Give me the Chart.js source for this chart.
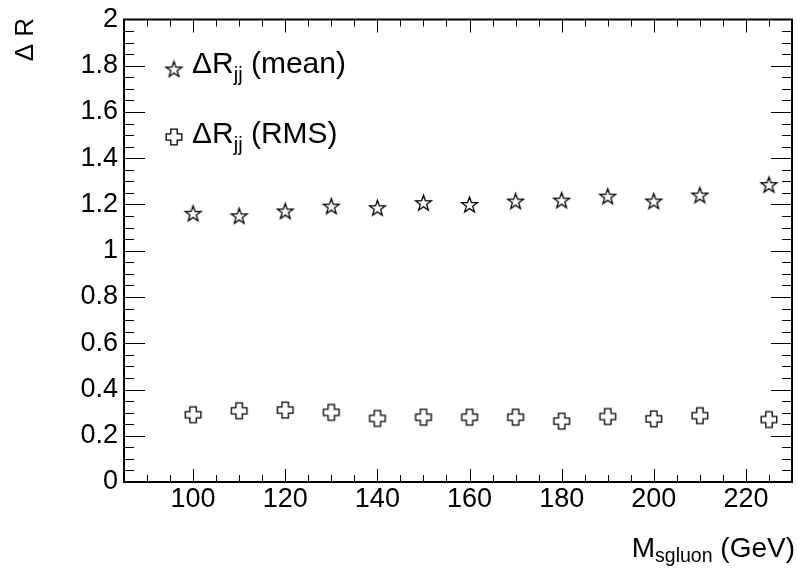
<!DOCTYPE html>
<html>
<head>
<meta charset="utf-8">
<script src="https://cdn.jsdelivr.net/npm/chart.js@4/dist/chart.umd.min.js"></script>
<style>
  html, body { margin: 0; padding: 0; background: #fff; }
</style>
</head>
<body>
<canvas id="chart" width="797" height="570"></canvas>
<script>
// sgluon mass points (GeV)
const masses = [100, 110, 120, 130, 140, 150, 160, 170, 180, 190, 200, 210, 225];
// Delta R_jj mean and RMS
const meanDR = [1.162, 1.151, 1.172, 1.193, 1.186, 1.208, 1.200, 1.215, 1.219, 1.236, 1.215, 1.241, 1.286];
const rmsDR = [0.291, 0.308, 0.311, 0.301, 0.275, 0.280, 0.280, 0.280, 0.263, 0.283, 0.273, 0.287, 0.270];

const xTicks = [100, 120, 140, 160, 180, 200, 220];
const yTicks = [0, 0.2, 0.4, 0.6, 0.8, 1, 1.2, 1.4, 1.6, 1.8, 2];
const legendLabels = ["(mean)", "(RMS)"];

const FONT = "'Liberation Sans', Arial, Helvetica, sans-serif";

// open five point star (ROOT marker 30)
function makeStar(R) {
	const c = document.createElement("canvas");
	const s = Math.ceil(R * 2 + 4);
	c.width = c.height = s;
	const g = c.getContext("2d");
	const cx = s / 2, cy = s / 2 + 0.095 * R;
	const r = R * 0.4;
	g.beginPath();
	for (let i = 0; i < 10; i++) {
		const a = -Math.PI / 2 + i * Math.PI / 5;
		const rr = i % 2 ? r : R;
		const px = cx + rr * Math.cos(a), py = cy + rr * Math.sin(a);
		i ? g.lineTo(px, py) : g.moveTo(px, py);
	}
	g.closePath();
	g.fillStyle = "#fff";
	g.fill();
	g.strokeStyle = "#000";
	g.lineWidth = 1.3;
	g.stroke();
	return c;
}

// open cross (ROOT marker 28)
function makeCross(h, w) {
	const c = document.createElement("canvas");
	const s = Math.ceil(h * 2 + 4);
	c.width = c.height = s;
	const g = c.getContext("2d");
	const m = s / 2;
	const pts = [[-w, -h], [w, -h], [w, -w], [h, -w], [h, w], [w, w], [w, h], [-w, h], [-w, w], [-h, w], [-h, -w], [-w, -w]];
	g.beginPath();
	pts.forEach((p, i) => i ? g.lineTo(m + p[0], m + p[1]) : g.moveTo(m + p[0], m + p[1]));
	g.closePath();
	g.fillStyle = "#fff";
	g.fill();
	g.strokeStyle = "#000";
	g.lineWidth = 1.3;
	g.stroke();
	return c;
}

const starImg = makeStar(8.3);
const crossImg = makeCross(7.8, 3.2);

function drawParts(ctx, x, y, parts) {
	// parts: [text, fontSize, baselineShift]
	let cx = x;
	for (const [t, size, dy] of parts) {
		ctx.font = size + "px " + FONT;
		ctx.fillText(t, cx, y + dy);
		cx += ctx.measureText(t).width;
	}
	return cx;
}

function partsWidth(ctx, parts) {
	let w = 0;
	for (const [t, size] of parts) {
		ctx.font = size + "px " + FONT;
		w += ctx.measureText(t).width;
	}
	return w;
}

const rootFrame = {
	id: "rootFrame",
	beforeDatasetsDraw(chart) {
		const { ctx, chartArea: a, scales: { x, y } } = chart;
		ctx.save();
		ctx.strokeStyle = "#000";
		ctx.lineWidth = 1;
		ctx.beginPath();
		for (let v = 90; v < 230; v += 5) {
			const px = Math.round(x.getPixelForValue(v)) + 0.5;
			const len = xTicks.includes(v) ? 13 : 7;
			ctx.moveTo(px, a.bottom);
			ctx.lineTo(px, a.bottom - len);
			ctx.moveTo(px, a.top);
			ctx.lineTo(px, a.top + len);
		}
		for (let i = 1; i < 40; i++) {
			const py = Math.round(y.getPixelForValue(i * 0.05)) + 0.5;
			const len = i % 4 === 0 ? 21 : 10;
			ctx.moveTo(a.left, py);
			ctx.lineTo(a.left + len, py);
			ctx.moveTo(a.right, py);
			ctx.lineTo(a.right - len, py);
		}
		ctx.stroke();
		ctx.lineWidth = 2;
		ctx.strokeRect(a.left, a.top, a.right - a.left, a.bottom - a.top);
		ctx.restore();
	},
	afterDraw(chart) {
		const { ctx } = chart;
		ctx.save();
		ctx.fillStyle = "#000";
		ctx.textBaseline = "alphabetic";
		ctx.textAlign = "left";

		// legend
		const rows = [[starImg, 69, 73], [crossImg, 137, 143]];
		rows.forEach(([img, my, by], i) => {
			ctx.drawImage(img, 174 - img.width / 2, my - img.height / 2);
			drawParts(ctx, 192, by, [["\u0394R", 30, 0], ["jj", 20, 8], [" " + legendLabels[i], 30, 0]]);
		});

		// x title
		const xt = [["M", 28, 0], ["sgluon", 19.5, 5], [" (GeV)", 28, 0]];
		drawParts(ctx, 795 - partsWidth(ctx, xt), 557, xt);

		// y title
		ctx.translate(33, 18);
		ctx.rotate(-Math.PI / 2);
		ctx.textAlign = "right";
		ctx.font = "26px " + FONT;
		ctx.fillText("\u0394 R", 0, 0);
		ctx.restore();
	}
};

const tickFont = { family: FONT, size: 27, lineHeight: 1 };

new Chart(document.getElementById("chart"), {
	type: "scatter",
	data: {
		datasets: [
			{
				data: masses.map((m, i) => ({ x: m, y: meanDR[i] })),
				pointStyle: starImg
			},
			{
				data: masses.map((m, i) => ({ x: m, y: rmsDR[i] })),
				pointStyle: crossImg
			}
		]
	},
	options: {
		responsive: false,
		animation: false,
		layout: { padding: { left: 0, right: 2, top: 15, bottom: 0 } },
		scales: {
			x: {
				type: "linear",
				min: 85,
				max: 230,
				afterBuildTicks: (s) => { s.ticks = xTicks.map((v) => ({ value: v })); },
				afterFit: (s) => { s.height = 88; },
				grid: { display: false, drawTicks: false },
				border: { display: false },
				ticks: { font: tickFont, color: "#000", padding: 4, maxRotation: 0, autoSkip: false }
			},
			y: {
				min: 0,
				max: 2,
				afterBuildTicks: (s) => { s.ticks = yTicks.map((v) => ({ value: v })); },
				afterFit: (s) => { s.width = 124; },
				grid: { display: false, drawTicks: false },
				border: { display: false },
				ticks: {
					font: tickFont,
					color: "#000",
					padding: 6,
					autoSkip: false,
					callback: (v) => String(+v.toFixed(1))
				}
			}
		},
		plugins: {
			legend: { display: false },
			tooltip: { enabled: false }
		}
	},
	plugins: [rootFrame]
});
</script>
</body>
</html>
